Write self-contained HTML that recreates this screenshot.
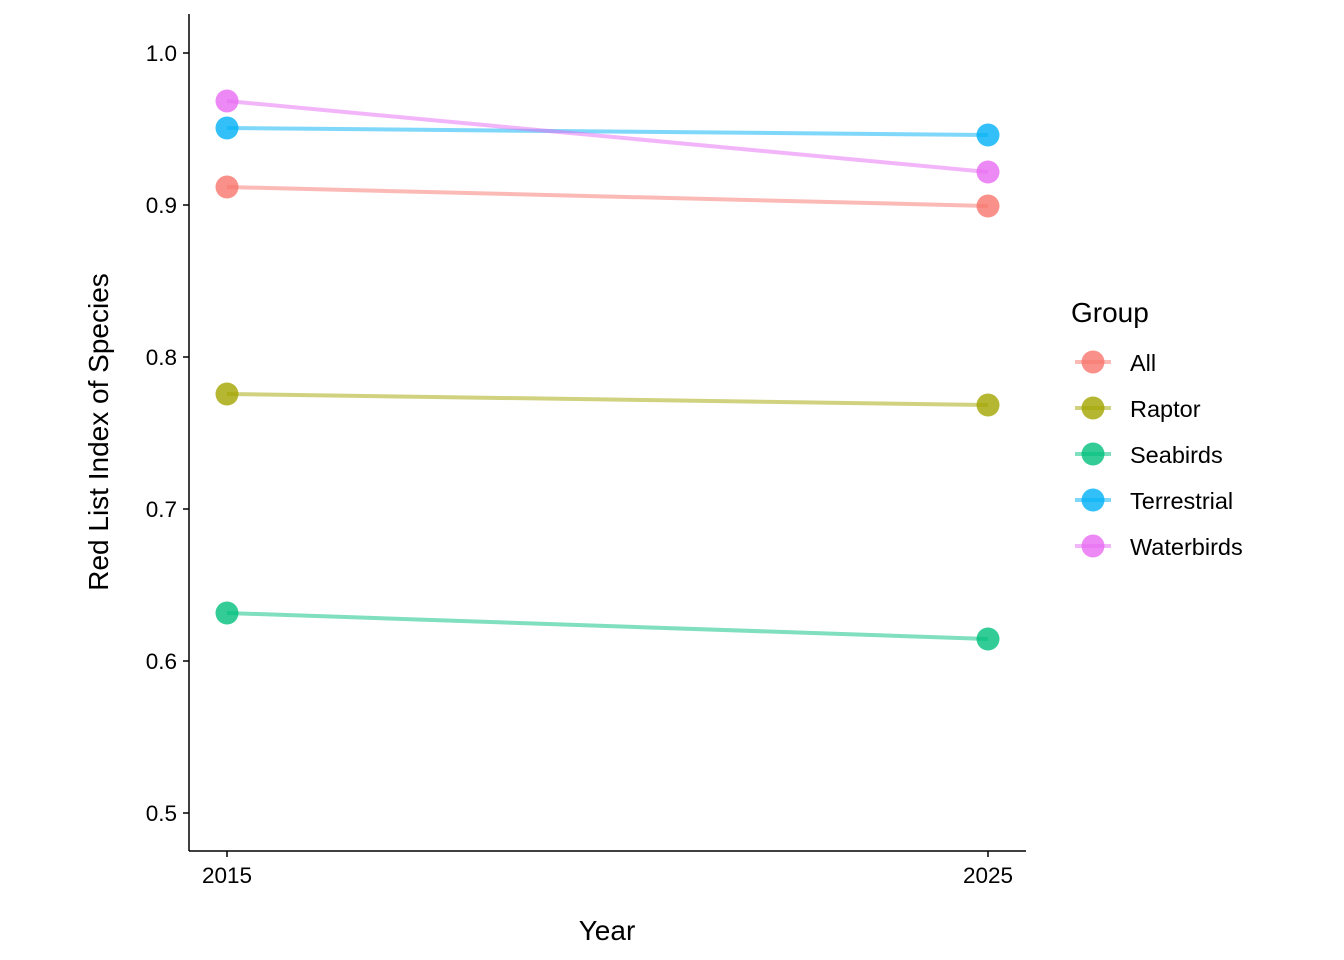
<!DOCTYPE html>
<html><head><meta charset="utf-8"><style>body{margin:0;background:#fff}svg{display:block}text{font-family:"Liberation Sans",Arial,sans-serif}</style></head><body>
<svg width="1344" height="960" xmlns="http://www.w3.org/2000/svg">
<rect width="1344" height="960" fill="#fff"/>
<g stroke="#000" stroke-width="1.5" fill="none">
<line x1="189" y1="14" x2="189" y2="851"/>
<line x1="189" y1="851" x2="1026" y2="851"/>
<line x1="183" y1="53" x2="189" y2="53"/><line x1="183" y1="205" x2="189" y2="205"/><line x1="183" y1="357" x2="189" y2="357"/><line x1="183" y1="509" x2="189" y2="509"/><line x1="183" y1="661" x2="189" y2="661"/><line x1="183" y1="813" x2="189" y2="813"/>
<line x1="227" y1="851" x2="227" y2="857"/><line x1="988" y1="851" x2="988" y2="857"/>
</g>
<g font-size="22.5" fill="#000" text-anchor="end">
<text x="177" y="61">1.0</text><text x="177" y="213">0.9</text><text x="177" y="365">0.8</text><text x="177" y="517">0.7</text><text x="177" y="669">0.6</text><text x="177" y="821">0.5</text>
</g>
<g font-size="22.5" fill="#000" text-anchor="middle">
<text x="227" y="883">2015</text><text x="988" y="883">2025</text>
</g>
<text x="607" y="940" font-size="28" text-anchor="middle">Year</text>
<text transform="translate(108,432) rotate(-90)" font-size="28" text-anchor="middle">Red List Index of Species</text>
<g stroke-width="4" stroke-opacity="0.5">
<line x1="227" y1="187" x2="988" y2="206" stroke="#F8766D"/>
<line x1="227" y1="394" x2="988" y2="405" stroke="#A3A500"/>
<line x1="227" y1="613" x2="988" y2="639" stroke="#00BF7D"/>
<line x1="227" y1="128" x2="988" y2="135" stroke="#00B0F6"/>
<line x1="227" y1="101" x2="988" y2="172" stroke="#E76BF3"/>
</g>
<g fill-opacity="0.8">
<circle cx="227" cy="187" r="11.5" fill="#F8766D"/><circle cx="988" cy="206" r="11.5" fill="#F8766D"/>
<circle cx="227" cy="394" r="11.5" fill="#A3A500"/><circle cx="988" cy="405" r="11.5" fill="#A3A500"/>
<circle cx="227" cy="613" r="11.5" fill="#00BF7D"/><circle cx="988" cy="639" r="11.5" fill="#00BF7D"/>
<circle cx="227" cy="128" r="11.5" fill="#00B0F6"/><circle cx="988" cy="135" r="11.5" fill="#00B0F6"/>
<circle cx="227" cy="101" r="11.5" fill="#E76BF3"/><circle cx="988" cy="172" r="11.5" fill="#E76BF3"/>
</g>
<text x="1071" y="322" font-size="28">Group</text>
<g font-size="23.5">
<line x1="1075" y1="362" x2="1111" y2="362" stroke="#F8766D" stroke-width="4" stroke-opacity="0.5"/><circle cx="1093" cy="362" r="11.5" fill="#F8766D" fill-opacity="0.8"/><text x="1130" y="371">All</text>
<line x1="1075" y1="408" x2="1111" y2="408" stroke="#A3A500" stroke-width="4" stroke-opacity="0.5"/><circle cx="1093" cy="408" r="11.5" fill="#A3A500" fill-opacity="0.8"/><text x="1130" y="417">Raptor</text>
<line x1="1075" y1="454" x2="1111" y2="454" stroke="#00BF7D" stroke-width="4" stroke-opacity="0.5"/><circle cx="1093" cy="454" r="11.5" fill="#00BF7D" fill-opacity="0.8"/><text x="1130" y="463">Seabirds</text>
<line x1="1075" y1="500" x2="1111" y2="500" stroke="#00B0F6" stroke-width="4" stroke-opacity="0.5"/><circle cx="1093" cy="500" r="11.5" fill="#00B0F6" fill-opacity="0.8"/><text x="1130" y="509">Terrestrial</text>
<line x1="1075" y1="546" x2="1111" y2="546" stroke="#E76BF3" stroke-width="4" stroke-opacity="0.5"/><circle cx="1093" cy="546" r="11.5" fill="#E76BF3" fill-opacity="0.8"/><text x="1130" y="555">Waterbirds</text>
</g>
</svg>
</body></html>
